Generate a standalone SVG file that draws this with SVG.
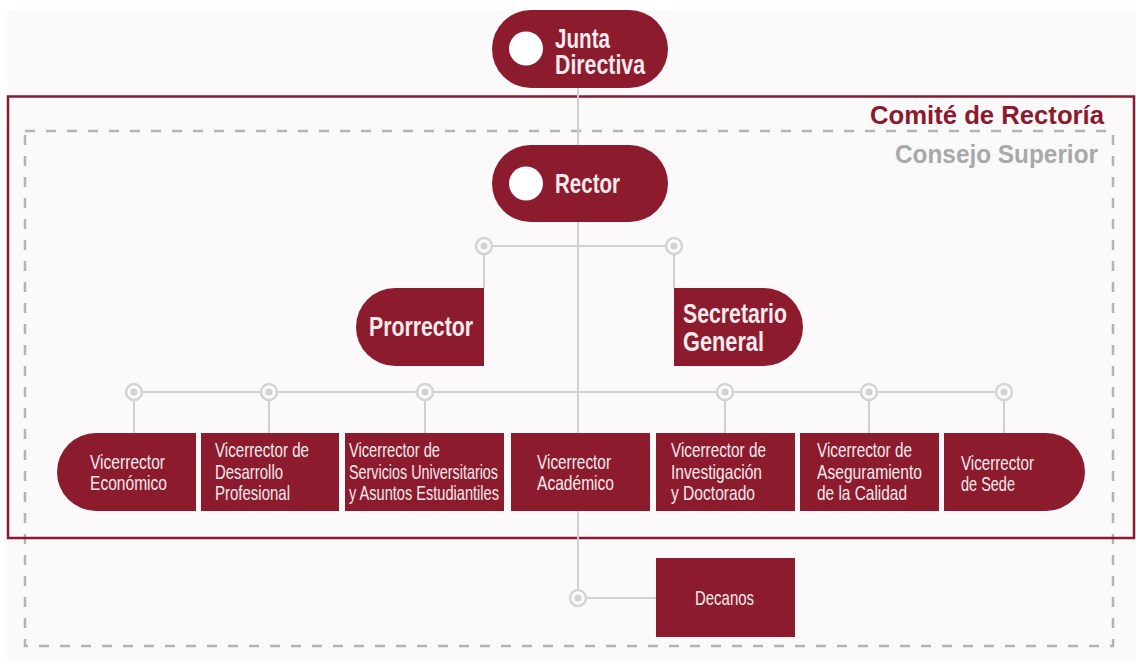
<svg xmlns="http://www.w3.org/2000/svg" width="1136" height="663" viewBox="0 0 1136 663">
<style>
.node{fill:#8d1b2e}
.t{font-family:"Liberation Sans Narrow","Liberation Sans",Arial,sans-serif;fill:#f7eaed}
.big{font-size:27px;font-weight:bold}
.sm{font-size:21px}
.conn{stroke:#d0d0d0;stroke-width:2;fill:none}
.ring{fill:#fbfafa;stroke:#d4d4d4;stroke-width:2.5}
.dot{fill:#d2d2d2}
.hdr{font-family:"Liberation Sans Narrow","Liberation Sans",Arial,sans-serif;font-size:25px;font-weight:bold}
</style>
<defs>
<g id="ringnode"><circle class="ring" r="8"/><circle class="dot" r="3.5"/></g>
</defs>
<rect x="0" y="0" width="1136" height="663" fill="#ffffff"/>
<rect x="7" y="10" width="1129" height="653" fill="#fbf9fa"/>

<g id="consejo-superior">
<rect x="25" y="131" width="1088" height="515" fill="none" stroke="#b3b3b3" stroke-width="2.5" stroke-dasharray="10 11"/>
<text class="hdr" x="895" y="163" fill="#a9a9a9" textLength="203" lengthAdjust="spacingAndGlyphs">Consejo Superior</text>
</g>
<g id="comite-rectoria">
<rect x="8" y="96.5" width="1126" height="441.5" fill="none" stroke="#8b1a2e" stroke-width="2.5"/>
<text class="hdr" x="870" y="124" fill="#8b1a2e" textLength="234" lengthAdjust="spacingAndGlyphs">Comité de Rectoría</text>
</g>

<g id="connectors">
<line class="conn" x1="578" y1="88" x2="578" y2="598"/>
<line class="conn" x1="484" y1="246" x2="674" y2="246"/>
<line class="conn" x1="484" y1="246" x2="484" y2="288"/>
<line class="conn" x1="674" y1="246" x2="674" y2="288"/>
<line class="conn" x1="134" y1="392" x2="1004" y2="392"/>
<line class="conn" x1="134" y1="392" x2="134" y2="433"/>
<line class="conn" x1="269" y1="392" x2="269" y2="433"/>
<line class="conn" x1="425" y1="392" x2="425" y2="433"/>
<line class="conn" x1="725" y1="392" x2="725" y2="433"/>
<line class="conn" x1="869" y1="392" x2="869" y2="433"/>
<line class="conn" x1="1004" y1="392" x2="1004" y2="433"/>
<line class="conn" x1="578" y1="598" x2="656" y2="598"/>
<use href="#ringnode" x="484" y="246"/>
<use href="#ringnode" x="674" y="246"/>
<use href="#ringnode" x="134" y="392"/>
<use href="#ringnode" x="269" y="392"/>
<use href="#ringnode" x="425" y="392"/>
<use href="#ringnode" x="725" y="392"/>
<use href="#ringnode" x="869" y="392"/>
<use href="#ringnode" x="1004" y="392"/>
<use href="#ringnode" x="578" y="598"/>
</g>

<g id="junta-directiva">
<rect class="node" x="492" y="10" width="176" height="78" rx="39"/>
<circle cx="526" cy="48.5" r="17" fill="#ffffff"/>
<text class="t big" x="555" y="48" textLength="55" lengthAdjust="spacingAndGlyphs">Junta</text>
<text class="t big" x="555" y="74" textLength="90" lengthAdjust="spacingAndGlyphs">Directiva</text>
</g>

<g id="rector">
<rect class="node" x="492" y="145" width="176" height="77" rx="38.5"/>
<circle cx="526" cy="183.5" r="17" fill="#ffffff"/>
<text class="t big" x="555" y="193" textLength="65" lengthAdjust="spacingAndGlyphs">Rector</text>
</g>

<g id="prorrector">
<path class="node" d="M484,288 H395 A39,39 0 0 0 395,366 H484 Z"/>
<text class="t big" x="369" y="336" textLength="104" lengthAdjust="spacingAndGlyphs">Prorrector</text>
</g>

<g id="secretario-general">
<path class="node" d="M674,288 H764 A39,39 0 0 1 764,366 H674 Z"/>
<text class="t big" x="683" y="323" textLength="104" lengthAdjust="spacingAndGlyphs">Secretario</text>
<text class="t big" x="683" y="351" textLength="81" lengthAdjust="spacingAndGlyphs">General</text>
</g>

<g id="vr-economico">
<path class="node" d="M196,433 H96 A39,39 0 0 0 96,511 H196 Z"/>
<text class="t sm" x="90" y="469" textLength="75" lengthAdjust="spacingAndGlyphs">Vicerrector</text>
<text class="t sm" x="90" y="490" textLength="77" lengthAdjust="spacingAndGlyphs">Económico</text>
</g>

<g id="vr-desarrollo">
<rect class="node" x="201" y="433" width="138" height="78"/>
<text class="t sm" x="215" y="457" textLength="94" lengthAdjust="spacingAndGlyphs">Vicerrector de</text>
<text class="t sm" x="215" y="479" textLength="68" lengthAdjust="spacingAndGlyphs">Desarrollo</text>
<text class="t sm" x="215" y="500" textLength="75" lengthAdjust="spacingAndGlyphs">Profesional</text>
</g>

<g id="vr-servicios">
<rect class="node" x="345" y="433" width="159" height="78"/>
<text class="t sm" x="349" y="457" textLength="91" lengthAdjust="spacingAndGlyphs">Vicerrector de</text>
<text class="t sm" x="349" y="479" textLength="149" lengthAdjust="spacingAndGlyphs">Servicios Universitarios</text>
<text class="t sm" x="349" y="500" textLength="150" lengthAdjust="spacingAndGlyphs">y Asuntos Estudiantiles</text>
</g>

<g id="vr-academico">
<rect class="node" x="511" y="433" width="139" height="78"/>
<text class="t sm" x="537" y="469" textLength="74" lengthAdjust="spacingAndGlyphs">Vicerrector</text>
<text class="t sm" x="537" y="490" textLength="77" lengthAdjust="spacingAndGlyphs">Académico</text>
</g>

<g id="vr-investigacion">
<rect class="node" x="656" y="433" width="139" height="78"/>
<text class="t sm" x="671" y="457" textLength="95" lengthAdjust="spacingAndGlyphs">Vicerrector de</text>
<text class="t sm" x="671" y="479" textLength="91" lengthAdjust="spacingAndGlyphs">Investigación</text>
<text class="t sm" x="671" y="500" textLength="84" lengthAdjust="spacingAndGlyphs">y Doctorado</text>
</g>

<g id="vr-aseguramiento">
<rect class="node" x="800" y="433" width="139" height="78"/>
<text class="t sm" x="817" y="457" textLength="95" lengthAdjust="spacingAndGlyphs">Vicerrector de</text>
<text class="t sm" x="817" y="479" textLength="105" lengthAdjust="spacingAndGlyphs">Aseguramiento</text>
<text class="t sm" x="817" y="500" textLength="90" lengthAdjust="spacingAndGlyphs">de la Calidad</text>
</g>

<g id="vr-sede">
<path class="node" d="M944,433 H1046 A39,39 0 0 1 1046,511 H944 Z"/>
<text class="t sm" x="961" y="470" textLength="73" lengthAdjust="spacingAndGlyphs">Vicerrector</text>
<text class="t sm" x="961" y="491" textLength="54" lengthAdjust="spacingAndGlyphs">de Sede</text>
</g>

<g id="decanos">
<rect class="node" x="656" y="558" width="139" height="79"/>
<text class="t sm" x="695" y="605" textLength="59" lengthAdjust="spacingAndGlyphs">Decanos</text>
</g>
</svg>
